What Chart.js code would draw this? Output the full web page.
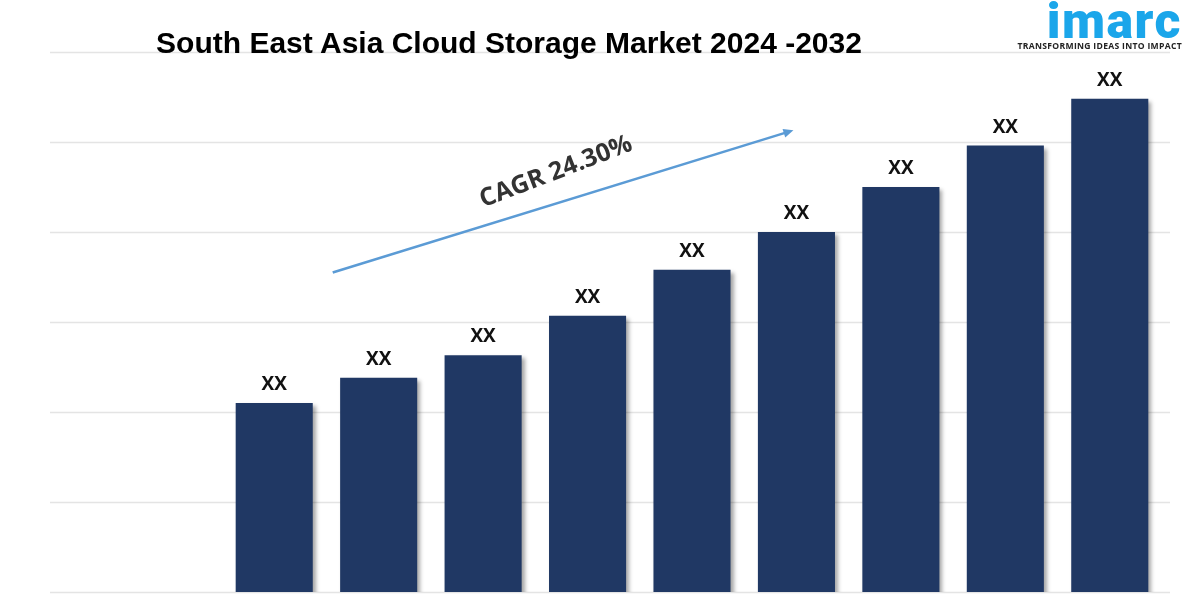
<!DOCTYPE html>
<html>
<head>
<meta charset="utf-8">
<script src="https://cdn.jsdelivr.net/npm/chart.js@4"></script>
<style>
  html, body { margin: 0; padding: 0; background: #fff; }
  #wrap { position: relative; width: 1200px; height: 600px; overflow: hidden; }
  #chart { position: absolute; left: 0; top: 0; }
  .title { position: absolute; left: 0; width: 1018px; top: 26px; text-align: center;
    font: bold 30px "Liberation Sans", Arial, sans-serif; color: #000; }
  .logo { position: absolute; right: 18px; top: -3px; text-align: right; }
  .logo .brand { font: 900 50px Roboto, "Open Sans", sans-serif; color: #1ba6ea; letter-spacing: 1.5px; line-height: 48px; }
  .logo .tag { font: bold 8.6px "Open Sans", "DejaVu Sans", sans-serif; color: #222; letter-spacing: 0.3px; margin-top: -5px; }
</style>
</head>
<body>
<div id="wrap">
  <canvas id="chart" width="1200" height="600"></canvas>
  <div class="title">South East Asia Cloud Storage Market 2024 -2032</div>
  <div class="logo"><div class="brand">imarc</div><div class="tag">TRANSFORMING IDEAS INTO IMPACT</div></div>
</div>
<script>
const years = ["2024", "2025", "2026", "2027", "2028", "2029", "2030", "2031", "2032"];
const marketSize = [2.1, 2.38, 2.63, 3.07, 3.58, 4.0, 4.5, 4.96, 5.48];
const barLabels = ["XX", "XX", "XX", "XX", "XX", "XX", "XX", "XX", "XX"];
const gridTicks = [0, 1, 2, 3, 4, 5, 6];
const cagrText = "CAGR 24.30%";

// light horizontal rules that run wider than the bar area
const gridPlugin = {
  id: "wideGrid",
  beforeDatasetsDraw(chart) {
    const { ctx, scales: { y } } = chart;
    ctx.save();
    ctx.strokeStyle = "#e4e4e4";
    ctx.lineWidth = 1.5;
    gridTicks.forEach((v) => {
      const py = Math.round(y.getPixelForValue(v)) + 0.5;
      ctx.beginPath();
      ctx.moveTo(50, py);
      ctx.lineTo(1170, py);
      ctx.stroke();
    });
    ctx.restore();
  },
};

// drop shadow behind the bars
const shadowPlugin = {
  id: "barShadow",
  beforeDatasetDraw(chart) {
    const ctx = chart.ctx;
    ctx.save();
    ctx.shadowColor = "rgba(0,0,0,0.35)";
    ctx.shadowBlur = 4;
    ctx.shadowOffsetX = 3;
    ctx.shadowOffsetY = 3;
  },
  afterDatasetDraw(chart) {
    chart.ctx.restore();
  },
};

const labelPlugin = {
  id: "xxLabels",
  afterDatasetsDraw(chart) {
    const { ctx } = chart;
    const meta = chart.getDatasetMeta(0);
    ctx.save();
    ctx.fillStyle = "#111";
    ctx.font = "bold 19px 'Open Sans', 'Liberation Sans', sans-serif";
    ctx.textAlign = "center";
    ctx.textBaseline = "bottom";
    meta.data.forEach((bar, i) => ctx.fillText(barLabels[i], bar.x, bar.y - 9));
    ctx.restore();
  },
};

// CAGR arrow placed in data space
const cagrPlugin = {
  id: "cagr",
  afterDraw(chart) {
    const { ctx, scales: { x, y } } = chart;
    const x0 = x.getPixelForValue(0) + 0.56 * (x.getPixelForValue(1) - x.getPixelForValue(0));
    const y0 = y.getPixelForValue(3.55);
    const x1 = x.getPixelForValue(5) - 3;
    const y1 = y.getPixelForValue(5.13);
    const ang = Math.atan2(y1 - y0, x1 - x0);
    ctx.save();
    ctx.strokeStyle = "#5b9bd5";
    ctx.fillStyle = "#5b9bd5";
    ctx.lineWidth = 2.5;
    ctx.beginPath();
    ctx.moveTo(x0, y0);
    ctx.lineTo(x1 - 8 * Math.cos(ang), y1 - 8 * Math.sin(ang));
    ctx.stroke();
    ctx.beginPath();
    ctx.moveTo(x1, y1);
    ctx.lineTo(x1 - 10 * Math.cos(ang) + 4.5 * Math.sin(ang), y1 - 10 * Math.sin(ang) - 4.5 * Math.cos(ang));
    ctx.lineTo(x1 - 10 * Math.cos(ang) - 4.5 * Math.sin(ang), y1 - 10 * Math.sin(ang) + 4.5 * Math.cos(ang));
    ctx.closePath();
    ctx.fill();

    ctx.translate(556, 172);
    ctx.rotate(-21 * Math.PI / 180);
    ctx.fillStyle = "#333";
    ctx.font = "bold 25px 'Open Sans', 'Liberation Sans', sans-serif";
    ctx.textAlign = "center";
    ctx.textBaseline = "middle";
    ctx.fillText(cagrText, 0, 0);
    ctx.restore();
  },
};

new Chart(document.getElementById("chart"), {
  type: "bar",
  data: {
    labels: years,
    datasets: [{
      data: marketSize,
      backgroundColor: "#203864",
      borderWidth: 0,
      barPercentage: 0.82,
      categoryPercentage: 0.9,
    }],
  },
  options: {
    responsive: false,
    animation: false,
    layout: { padding: { left: 222, right: 38, top: 52, bottom: 8 } },
    scales: {
      x: { display: false },
      y: { display: false, min: 0, max: 6 },
    },
    plugins: { legend: { display: false }, tooltip: { enabled: false } },
  },
  plugins: [gridPlugin, shadowPlugin, labelPlugin, cagrPlugin],
});
</script>
</body>
</html>
